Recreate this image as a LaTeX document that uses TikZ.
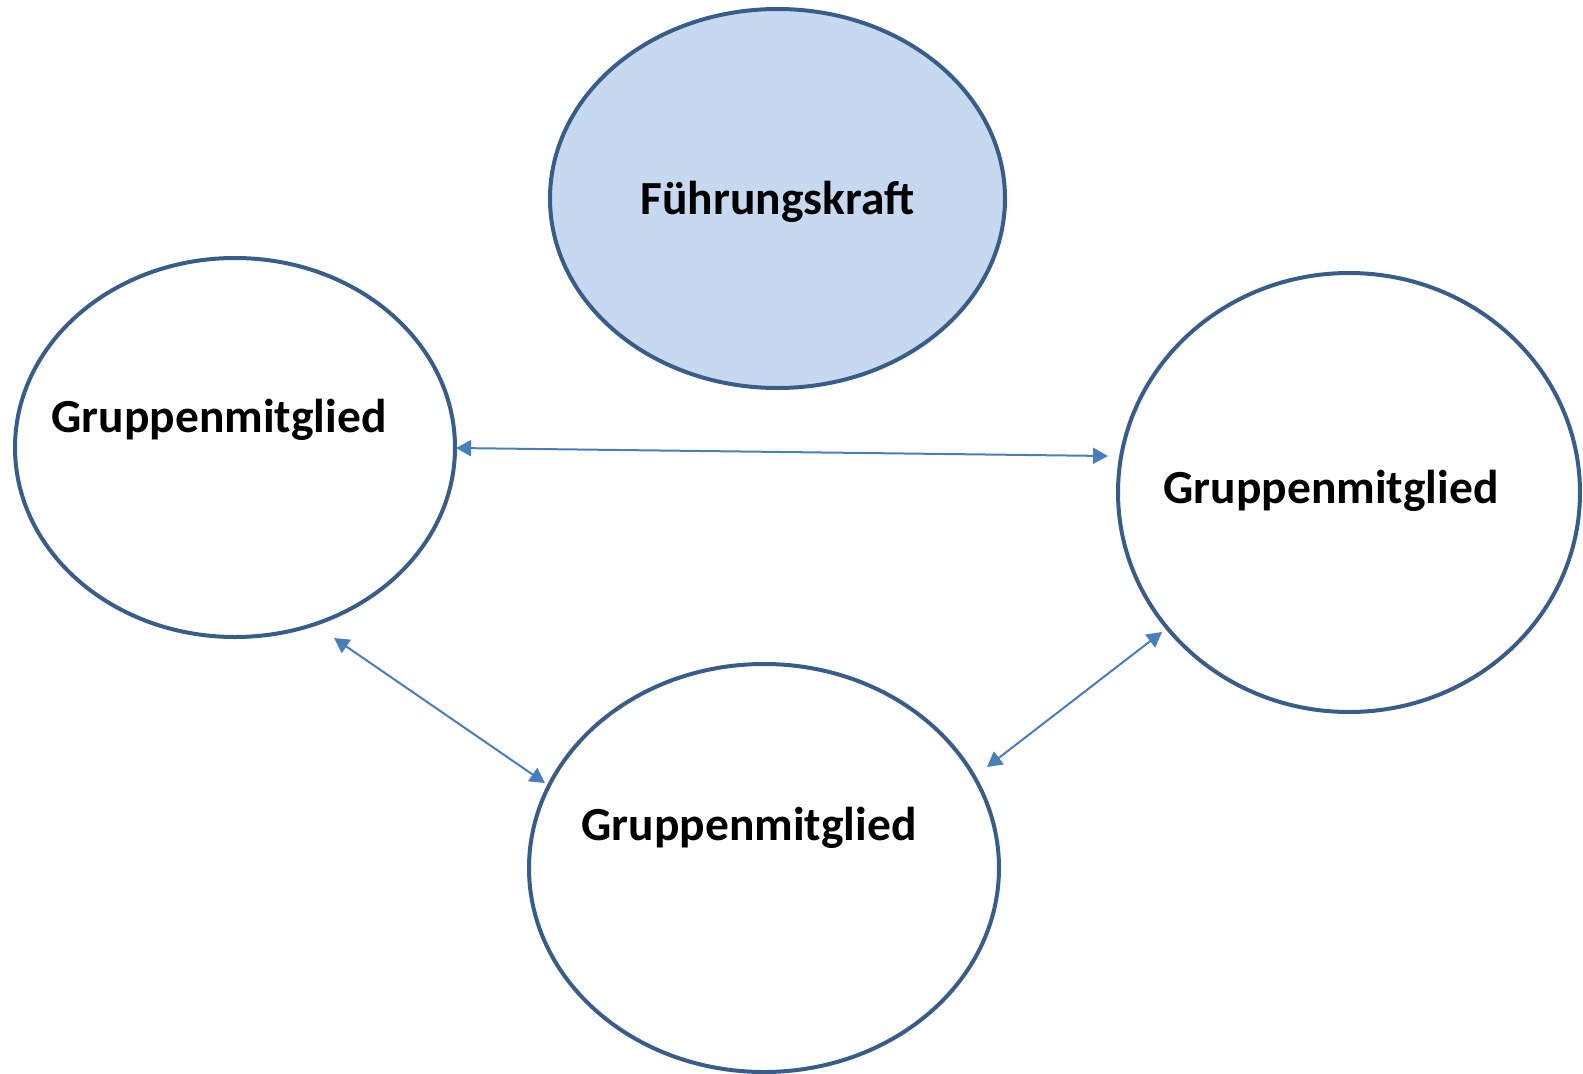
\documentclass[tikz,border=0pt]{standalone}
\usepackage{fontspec}
\setmainfont{Carlito}
\usepackage{xcolor}
\usetikzlibrary{positioning,shapes.geometric,arrows.meta}
\definecolor{rand}{RGB}{56,93,138}
\definecolor{fuell}{RGB}{198,217,241}
\definecolor{pfeil}{RGB}{74,126,187}

\begin{document}
\begin{tikzpicture}[x=1pt,y=-1pt,
  kreis/.style={draw=rand,line width=4pt,ellipse,inner sep=0pt},
  txt/.style={anchor=base,font=\fontsize{47.5}{57}\selectfont\bfseries},
  pf/.style={draw=pfeil,line width=2pt,{Triangle[length=15pt,width=16pt]}-{Triangle[length=15pt,width=16pt]}}]
\useasboundingbox (0,0) rectangle (1583,1074);
\node[kreis,fill=fuell,minimum width=455pt,minimum height=379pt] (chef) at (777.5,198.5) {};
\node[kreis,minimum width=440pt,minimum height=379pt] (links) at (235,447.5) {};
\node[kreis,minimum width=462pt,minimum height=439pt] (rechts) at (1349,492.5) {};
\node[kreis,minimum width=470pt,minimum height=408pt] (unten) at (764,868) {};
%
\node[txt] (t1) at (777.5,214) {Führungskraft};
\node[txt] (t2) at (219,432) {Gruppenmitglied};
\node[txt] (t3) at (1331,503) {Gruppenmitglied};
\node[txt] (t4) at (749,840) {Gruppenmitglied};
%
\coordinate (a1) at (456,448);
\coordinate (a2) at (1108,456);
\coordinate (b1) at (334,638);
\coordinate (b2) at (545,783);
\coordinate (c1) at (987,767);
\coordinate (c2) at (1162,632);
\draw[pf] (a1) -- (a2);
\draw[pf] (b1) -- (b2);
\draw[pf] (c1) -- (c2);
\end{tikzpicture}
\end{document}
